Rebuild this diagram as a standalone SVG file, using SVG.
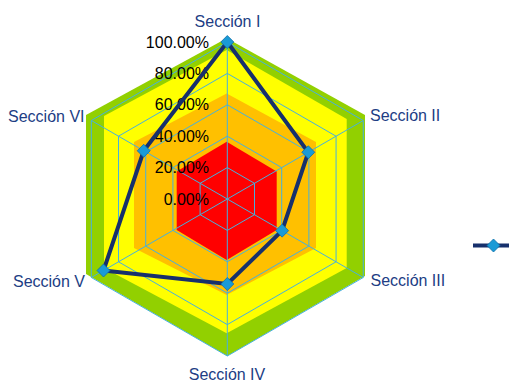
<svg xmlns="http://www.w3.org/2000/svg" width="509" height="383" viewBox="0 0 509 383">
  <defs>
    <style>
      .grid { fill: none; stroke: #46B1DE; stroke-width: 1; }
      .val { font-family: "Liberation Sans", Arial, sans-serif; font-size: 16px; fill: #000000; text-anchor: end; }
      .cat { font-family: "Liberation Sans", Arial, sans-serif; font-size: 16px; fill: #213D84; }
      .series { fill: none; stroke: #17306C; stroke-width: 4; stroke-linejoin: miter; }
      .mk { fill: #1A9AD6; stroke: #0E6FA8; stroke-width: 0.8; }
    </style>
    <path id="dia" d="M0,-6.5 L6.5,0 L0,6.5 L-6.5,0 Z"/>
  </defs>
  <rect width="509" height="383" fill="#FFFFFF"/>

  <g id="bands">
    <polygon fill="#92D000" points="226.7,38.3 365,115 365,276 227.3,356 86,274 86,115"/>
    <polygon fill="#FFFF00" points="226.7,50 346.7,119 346.7,268 226.7,333.3 104,268 104,116"/>
    <polygon fill="#FFC000" points="226.7,93.5 316,142 316,248 226.7,295 134,248 134,142"/>
    <polygon fill="#FF0000" points="226.7,141.7 276.7,171.5 276.7,230 226.7,260 176.7,230 176.7,171.5"/>
  </g>

  <g id="grid">
    <polygon class="grid" points="227.3,42 363.26,120.5 363.26,277.5 227.3,356 91.34,277.5 91.34,120.5"/>
    <polygon class="grid" points="227.3,73.4 336.07,136.2 336.07,261.8 227.3,324.6 118.53,261.8 118.53,136.2"/>
    <polygon class="grid" points="227.3,104.8 308.88,151.9 308.88,246.1 227.3,293.2 145.72,246.1 145.72,151.9"/>
    <polygon class="grid" points="227.3,136.2 281.69,167.6 281.69,230.4 227.3,261.8 172.91,230.4 172.91,167.6"/>
    <polygon class="grid" points="227.3,167.6 254.49,183.3 254.49,214.7 227.3,230.4 200.11,214.7 200.11,183.3"/>
    <path class="grid" d="M227.3,199 L227.3,42 M227.3,199 L363.26,120.5 M227.3,199 L363.26,277.5 M227.3,199 L227.3,356 M227.3,199 L91.34,277.5 M227.3,199 L91.34,120.5"/>
  </g>

  <g id="value-axis">
    <text class="val" x="209" y="47.5">100.00%</text>
    <text class="val" x="209" y="78.9">80.00%</text>
    <text class="val" x="209" y="110.3">60.00%</text>
    <text class="val" x="209" y="141.7">40.00%</text>
    <text class="val" x="209" y="173.1">20.00%</text>
    <text class="val" x="209" y="204.5">0.00%</text>
  </g>

  <g id="categories">
    <text id="cat-1" class="cat" x="227.5" y="26.5" text-anchor="middle">Sección I</text>
    <text id="cat-2" class="cat" x="370" y="121">Sección II</text>
    <text id="cat-3" class="cat" x="370.5" y="286">Sección III</text>
    <text id="cat-4" class="cat" x="227" y="380" text-anchor="middle">Sección IV</text>
    <text id="cat-5" class="cat" x="85" y="286.5" text-anchor="end">Sección V</text>
    <text id="cat-6" class="cat" x="84.5" y="121.5" text-anchor="end">Sección VI</text>
  </g>

  <g id="connectors">
    <polygon class="series" points="227.3,42 308.3,152.25 282.1,230.65 227.3,284 103.5,270.5 143.7,150.75"/>
  </g>

  <g id="markers">
    <use href="#dia" class="mk" x="227.3" y="42"/>
    <use href="#dia" class="mk" x="308.3" y="152.25"/>
    <use href="#dia" class="mk" x="282.1" y="230.65"/>
    <use href="#dia" class="mk" x="227.3" y="284"/>
    <use href="#dia" class="mk" x="103.5" y="270.5"/>
    <use href="#dia" class="mk" x="143.7" y="150.75"/>
  </g>

  <g id="legend">
    <line x1="473" y1="245.5" x2="509" y2="245.5" stroke="#17306C" stroke-width="4"/>
    <use href="#dia" class="mk" x="493.5" y="245.5"/>
  </g>
</svg>
